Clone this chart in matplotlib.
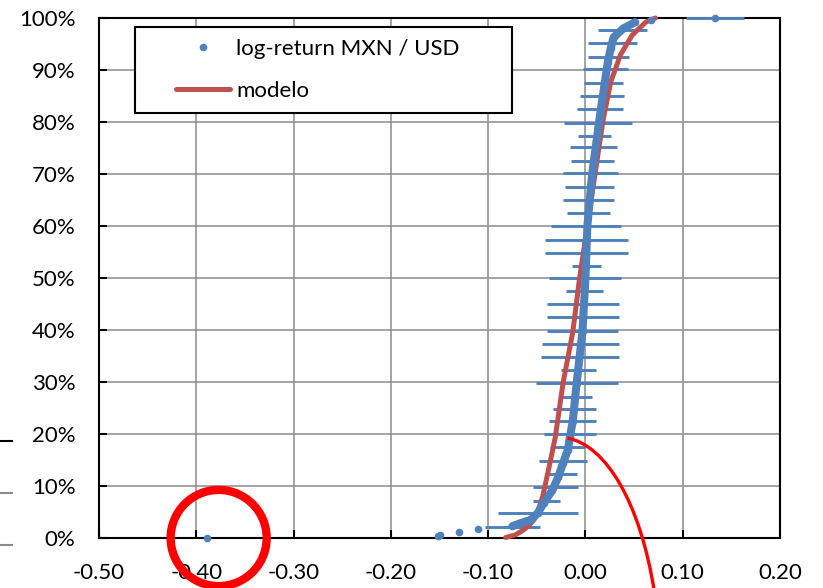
import numpy as np
import matplotlib.pyplot as plt
from matplotlib.patches import Ellipse, PathPatch
from matplotlib.path import Path
from matplotlib.lines import Line2D
from matplotlib.legend_handler import HandlerLine2D
from matplotlib.ticker import PercentFormatter

plt.rcParams['font.family'] = ['Lato', 'DejaVu Sans']

# empirical distribution: sorted log-returns vs cumulative probability
ret_x = [-0.389, -0.152, -0.150, -0.130, -0.110, -0.075, -0.066, -0.056, -0.049, -0.043,
         -0.034, -0.028, -0.023, -0.018, -0.016, -0.013, -0.009, -0.003, 0.000, 0.002,
         0.007, 0.015, 0.020, 0.023, 0.026, 0.029, 0.039, 0.051, 0.067, 0.133]
ret_p = [0.000, 0.004, 0.006, 0.012, 0.017, 0.023, 0.029, 0.035, 0.048, 0.067,
         0.092, 0.117, 0.144, 0.170, 0.194, 0.225, 0.298, 0.398, 0.500, 0.600,
         0.702, 0.813, 0.877, 0.915, 0.942, 0.963, 0.980, 0.992, 0.996, 1.000]
dense = slice(5, 28)   # part where the markers merge into one band

# horizontal error bars (centre, half width) at every few points
err_p = [1.000, 0.977, 0.952, 0.925, 0.902, 0.875, 0.850, 0.825, 0.798, 0.773,
         0.752, 0.725, 0.702, 0.675, 0.650, 0.625, 0.600, 0.573, 0.548, 0.523,
         0.500, 0.475, 0.450, 0.425, 0.398, 0.373, 0.348, 0.323, 0.298, 0.271,
         0.248, 0.225, 0.200, 0.175, 0.148, 0.123, 0.098, 0.071, 0.048, 0.021]
err_x = [0.133, 0.038, 0.028, 0.024, 0.021, 0.019, 0.017, 0.015, 0.013, 0.009,
         0.008, 0.007, 0.005, 0.004, 0.003, 0.003, 0.001, 0.001, 0.001, 0.001,
         0.000, -0.001, -0.002, -0.003, -0.003, -0.005, -0.006, -0.007, -0.009, -0.010,
         -0.011, -0.013, -0.016, -0.018, -0.023, -0.025, -0.031, -0.040, -0.049, -0.075]
err_w = [0.030, 0.025, 0.025, 0.021, 0.023, 0.020, 0.023, 0.024, 0.035, 0.017,
         0.024, 0.022, 0.028, 0.025, 0.026, 0.022, 0.036, 0.043, 0.043, 0.015,
         0.037, 0.019, 0.037, 0.037, 0.036, 0.040, 0.040, 0.018, 0.042, 0.017,
         0.022, 0.024, 0.027, 0.018, 0.025, 0.016, 0.023, 0.014, 0.041, 0.028]

# fitted model CDF
model_x = [-0.082, -0.072, -0.064, -0.057, -0.051, -0.044, -0.038, -0.033, -0.031, -0.023,
           -0.013, -0.006, 0.002, 0.010, 0.018, 0.026, 0.036, 0.048, 0.062, 0.072]
model_p = [0.001, 0.006, 0.015, 0.026, 0.040, 0.079, 0.131, 0.175, 0.194, 0.298,
           0.396, 0.500, 0.600, 0.702, 0.802, 0.877, 0.929, 0.967, 0.992, 1.000]

xticks = [-0.50, -0.40, -0.30, -0.20, -0.10, 0.00, 0.10, 0.20]
yticks = [0.0, 0.1, 0.2, 0.3, 0.4, 0.5, 0.6, 0.7, 0.8, 0.9, 1.0]

BLUE = '#4F81BD'
MODEL_RED = '#C0504D'


class InsetLine(HandlerLine2D):
    """legend handle drawn only over the right part of the handle box"""
    def create_artists(self, legend, orig_handle, xdescent, ydescent,
                       width, height, fontsize, trans):
        shift = width * 0.35
        return super().create_artists(legend, orig_handle, xdescent - shift, ydescent,
                                      width - shift, height, fontsize, trans)


fig = plt.figure(figsize=(8.23, 5.88), dpi=100)
ax = fig.add_axes([99 / 823, 50 / 588, 681 / 823, 520 / 588])

ax.errorbar(err_x, err_p, xerr=err_w, fmt='none', ecolor=BLUE, elinewidth=2.1,
            capsize=0, zorder=2.6, clip_on=False)
model, = ax.plot(model_x, model_p, color=MODEL_RED, lw=3.6, solid_capstyle='round',
                 zorder=3, label='modelo', clip_on=False)
ax.plot(ret_x[dense], ret_p[dense], color=BLUE, lw=5.8, solid_capstyle='round',
        solid_joinstyle='round', zorder=4, clip_on=False)
pts, = ax.plot(ret_x, ret_p, 'o', color=BLUE, ms=5.5, mew=0, zorder=4,
               label='log-return MXN / USD', clip_on=False)

ax.set_xlim(-0.5, 0.2)
ax.set_ylim(0, 1)
ax.set_xticks(xticks)
ax.set_xticklabels([f'{v:.2f}' for v in xticks])
ax.set_yticks(yticks)
ax.yaxis.set_major_formatter(PercentFormatter(1.0, decimals=0))
ax.tick_params(direction='in', length=6, width=1.5, color='black', labelsize=16,
               labelcolor='black')
ax.tick_params(axis='x', pad=18)
ax.tick_params(axis='y', pad=17)
ax.grid(True, color='#8C8C8C', lw=1.1)
ax.set_axisbelow(True)
for sp in ax.spines.values():
    sp.set_linewidth(1.5)
    sp.set_color('black')

leg = ax.legend(handles=[pts, model], loc='upper left',
                bbox_to_anchor=(36 / 681, 0, 377 / 681, 511 / 520), mode='expand',
                borderaxespad=0, fontsize=16, frameon=True, fancybox=False,
                edgecolor='black', framealpha=1, borderpad=0.55, labelspacing=0.96,
                handlelength=3.74, handletextpad=0.25,
                handler_map={Line2D: InsetLine()})
leg.get_frame().set_linewidth(1.5)

# red annotation: circle around the outlier and the curved stroke
ax.add_patch(Ellipse((-0.377, 0.0), 0.0987, 0.185, fill=False, ec='#FF0000', lw=6,
                     zorder=6, clip_on=False))
stroke = Path([(-0.0185, 0.192), (0.0206, 0.179), (0.0565, 0.069), (0.0709, -0.104)],
              [Path.MOVETO, Path.CURVE4, Path.CURVE4, Path.CURVE4])
ax.add_patch(PathPatch(stroke, fill=False, ec='#FF0000', lw=2.4, zorder=6,
                       clip_on=False))

# bits of the neighbouring chart at the left edge
fig.add_artist(Line2D([0, 12 / 823], [147 / 588, 147 / 588], color='black', lw=1.5))
fig.add_artist(Line2D([0, 12 / 823], [95 / 588, 95 / 588], color='#8C8C8C', lw=1.5))
fig.add_artist(Line2D([0, 12 / 823], [43 / 588, 43 / 588], color='#8C8C8C', lw=1.5))

fig.savefig('out.png', dpi=100)
